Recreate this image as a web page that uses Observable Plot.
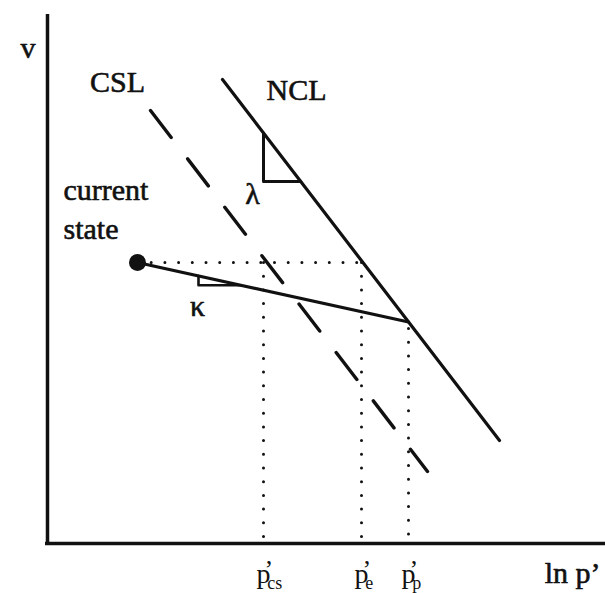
<!DOCTYPE html>
<html><head><meta charset="utf-8">
<script src="https://cdn.jsdelivr.net/npm/d3@7"></script>
<script src="https://cdn.jsdelivr.net/npm/@observablehq/plot@0.6"></script>
<style>body{margin:0;background:#fff;}</style>
</head><body><div id="chart"></div>
<script>
// Schematic v – ln p' diagram (arbitrary units)
const nclLnP = [175, 452];
const nclV = [464, 103];
const cslLnP = [103, 380];
const cslV = [433, 72];
const unloadLnP = [90, 361];      // current state -> yield point on NCL
const unloadV = [281, 221.5];
const hDotLnP = [90, 314];        // current state -> NCL at same v
const hDotV = [281, 281];
const pTicks = [216, 314, 361];   // p'cs, p'e, p'p
const pTickTop = [281, 281, 215];
const pSubs = ["cs", "e", "p"];
const lambdaLnP = [216, 216, 253.3];
const lambdaV = [410.6, 362, 362];
const kappaLnP = [151, 151, 193];
const kappaV = [267.5, 258.2, 258.2];
const midLabels = ["CSL", "NCL", "λ", "κ"];
const midLabelLnP = [70, 249, 205, 150];
const midLabelV = [452, 444, 340, 228];
const stateLabel = ["current\nstate"];
const stateLabelLnP = [16];
const stateLabelV = [305];

const pts = (xs, ys) => xs.map((x, i) => ({x, y: ys[i]}));
const ink = "#111";
const txt = {fill: ink, stroke: ink, strokeWidth: 0.6};

const plot = Plot.plot({
  width: 605, height: 593,
  marginLeft: 47, marginRight: 0, marginTop: 14, marginBottom: 50,
  x: {domain: [0, 558], label: null},
  y: {domain: [0, 529], axis: null},
  style: {fontFamily: "'Liberation Serif', 'DejaVu Serif', serif", color: ink, background: "white", overflow: "visible"},
  marks: [
    Plot.ruleX([0], {y1: 0, y2: 529, stroke: ink, strokeWidth: 3.5}),
    Plot.ruleY([0], {x1: -2, x2: 558, stroke: ink, strokeWidth: 3.5}),
    Plot.line(pts(hDotLnP, hDotV), {x: "x", y: "y", stroke: ink, strokeWidth: 3, strokeDasharray: "0,13.7", strokeLinecap: "round"}),
    Plot.link(pTicks.map((x, i) => ({x, top: pTickTop[i]})), {x1: "x", x2: "x", y1: "top", y2: 0, stroke: ink, strokeWidth: 3, strokeDasharray: "0,13.7", strokeLinecap: "round"}),
    Plot.line(pts(nclLnP, nclV), {x: "x", y: "y", stroke: ink, strokeWidth: 3.2}),
    Plot.line(pts(cslLnP, cslV), {x: "x", y: "y", stroke: ink, strokeWidth: 3.4, strokeDasharray: "34,27"}),
    Plot.line(pts(unloadLnP, unloadV), {x: "x", y: "y", stroke: ink, strokeWidth: 3.2}),
    Plot.line(pts(lambdaLnP, lambdaV), {x: "x", y: "y", stroke: ink, strokeWidth: 3}),
    Plot.line(pts(kappaLnP, kappaV), {x: "x", y: "y", stroke: ink, strokeWidth: 2.6}),
    Plot.dot([{x: unloadLnP[0], y: unloadV[0]}], {x: "x", y: "y", r: 8.5, fill: ink, stroke: null}),
    Plot.text(midLabels.map((t, i) => ({t, x: midLabelLnP[i], y: midLabelV[i]})), {x: "x", y: "y", text: "t", fontSize: 30, lineAnchor: "bottom", ...txt}),
    Plot.text(stateLabel.map((t, i) => ({t, x: stateLabelLnP[i], y: stateLabelV[i]})), {x: "x", y: "y", text: "t", fontSize: 30, lineAnchor: "bottom", textAnchor: "start", lineHeight: 1.3, ...txt}),
    Plot.text(["v"], {frameAnchor: "top-left", dx: -27, dy: 43, lineAnchor: "bottom", fontSize: 30, ...txt}),
    Plot.text(["ln p’"], {frameAnchor: "bottom-right", textAnchor: "end", dx: -5, dy: 39, lineAnchor: "bottom", fontSize: 30, ...txt}),
    Plot.axisX({ticks: pTicks, tickSize: 0, tickPadding: 20, fontSize: 28, tickFormat: () => "p", label: null, ...txt})
  ]
});

// add prime and subscript to the p' tick labels
plot.querySelectorAll('g[aria-label="x-axis tick label"] text').forEach((t, i) => {
  const ns = "http://www.w3.org/2000/svg";
  t.setAttribute("text-anchor", "start");
  t.setAttribute("dx", "-7");
  const sup = document.createElementNS(ns, "tspan");
  sup.setAttribute("dx", "-6");
  sup.setAttribute("dy", "-5");
  sup.setAttribute("font-size", "26");
  sup.textContent = "’";
  const sub = document.createElementNS(ns, "tspan");
  sub.setAttribute("dx", "-6");
  sub.setAttribute("dy", "11");
  sub.setAttribute("font-size", "18");
  sub.textContent = pSubs[i];
  t.appendChild(sup);
  t.appendChild(sub);
});

document.getElementById("chart").appendChild(plot);
</script>
</body></html>
